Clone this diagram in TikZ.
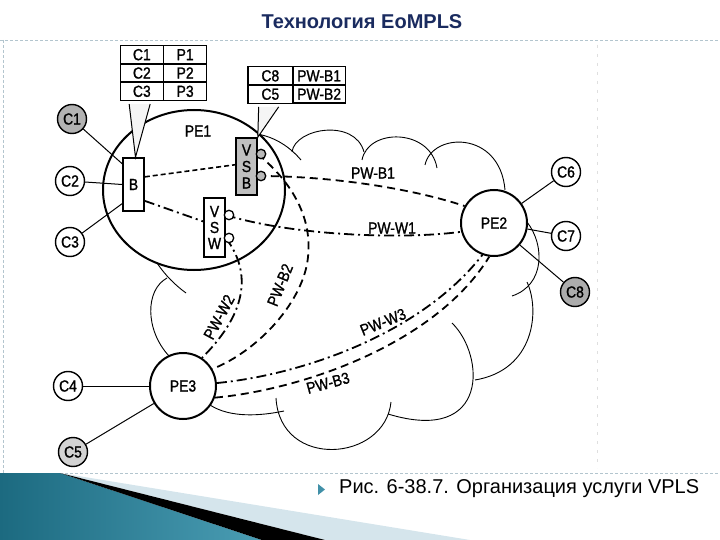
\documentclass[tikz,border=0pt]{standalone}
\usepackage{fontspec}
\setmainfont{Liberation Sans}
\newfontfamily\scan[FakeStretch=0.87,FakeBold=1.2]{Liberation Sans}
\usetikzlibrary{calc,matrix,shapes.geometric}
\tikzset{>=stealth}
\definecolor{navy}{HTML}{1A2B5F}
\definecolor{frame}{HTML}{B3C5CE}
\definecolor{tealdark}{HTML}{1C6A80}
\definecolor{teallight}{HTML}{4A9DB4}
\definecolor{paleblue}{HTML}{D5E5EC}
\definecolor{bullet}{HTML}{4190A8}
\tikzset{
  lbl/.style={font=\scan\fontsize{16}{16}\selectfont, inner sep=1pt},
  cl/.style={circle, draw, line width=1.4pt, minimum size=29pt, inner sep=0pt, fill=white, font=\scan\fontsize{16}{16}\selectfont},
  pe/.style={circle, draw, line width=2pt, minimum size=66pt, inner sep=0pt, fill=white, font=\scan\fontsize{16}{16}\selectfont},
  box/.style={draw, line width=1.6pt, fill=white, minimum width=21pt, inner sep=0pt, align=center, font=\scan\fontsize{16}{16.5}\selectfont},
  port/.style={circle, draw, line width=1.3pt, minimum size=9.5pt, inner sep=0pt, fill=white},
  tab/.style={matrix of nodes, column sep=-1pt, row sep=-1pt,
    nodes={draw, line width=1.3pt, minimum height=18pt, inner sep=0pt, font=\scan\fontsize{16}{16}\selectfont}},
  link/.style={line width=1pt},
  cloud/.style={line width=0.9pt},
  pwb/.style={line width=1.8pt, dash pattern=on 8pt off 5pt},
  pww/.style={line width=1.8pt, dash pattern=on 10pt off 4pt on 2pt off 4pt},
  loc/.style={line width=1.6pt, dash pattern=on 5pt off 3pt}
}
\begin{document}
\begin{tikzpicture}[x=1pt,y=-1pt]
\useasboundingbox (0,0) rectangle (720,540);

\draw[frame, dash pattern=on 3pt off 2pt] (0,40) -- (720,40);
\draw[frame, dash pattern=on 3pt off 2pt] (3,40) -- (3,473);
\draw[frame, dash pattern=on 3pt off 2pt] (0,473) -- (720,473);
\draw[gray!25, dash pattern=on 3pt off 6pt] (597,45) -- (597,468);

\node[font=\bfseries\fontsize{20}{20}\selectfont, text=navy] (title) at (362,22) {Технология EoMPLS};

% cloud
\draw[cloud] (257,134) .. controls (275,137) and (290,147) .. (301,160);
\draw[cloud] (292,152) .. controls (295,128) and (355,118) .. (364,152);
\draw[cloud] (362,160) .. controls (368,128) and (430,128) .. (437,168);
\draw[cloud] (425,165) .. controls (432,132) and (500,130) .. (505,190);
\draw[cloud] (527,222) .. controls (545,245) and (545,285) .. (512,296);
\draw[cloud] (527,282) .. controls (540,310) and (535,370) .. (475,380);
\draw[cloud] (452,323) .. controls (485,355) and (490,445) .. (388,414);
\draw[cloud] (391,402) .. controls (385,462) and (280,470) .. (276,398);
\draw[cloud] (210,405) .. controls (230,418) and (260,416) .. (284,411);
\draw[cloud] (169,356) .. controls (145,330) and (145,290) .. (167,278);
\draw[cloud] (157,263) .. controls (165,275) and (175,285) .. (186,293);

\node[draw, ellipse, line width=2pt, minimum width=182pt, minimum height=160pt] (pe1) at (194,190) {};
\node[lbl] (pe1t) at (198,131) {PE1};

\node[pe] (pe2) at (494,223) {PE2};
\node[pe] (pe3) at (183,386) {PE3};

\node[cl, fill=gray!60] (c1) at (72,119) {C1};
\node[cl] (c2) at (70,181) {C2};
\node[cl] (c3) at (70,242) {C3};
\node[cl] (c4) at (68,386) {C4};
\node[cl, fill=gray!35] (c5) at (73,452) {C5};
\node[cl] (c6) at (566,172) {C6};
\node[cl] (c7) at (566,236) {C7};
\node[cl, fill=gray!65] (c8) at (575,292) {C8};

\node[box, minimum height=53pt] (b) at (133.5,184.5) {B};
\node[box, fill=gray!50, minimum height=57pt] (vsb) at (246.5,166.5) {V\\S\\B};
\node[box, minimum height=59pt, font=\scan\fontsize{16}{16}\selectfont] (vsw) at (214.5,227.5) {V\\S\\W};

\draw[link] (c1) -- ($(b.north west)!0.12!(b.south west)$);
\draw[link] (c2) -- (b.west);
\draw[link] (c3) -- ($(b.north west)!0.85!(b.south west)$);
\draw[link] (c6) -- (pe2);
\draw[link] (c7) -- (pe2);
\draw[link] (c8) -- (pe2);
\draw[link] (c4) -- (pe3);
\draw[link] (c5) -- (pe3);

\draw[loc] ($(b.north east)!0.36!(b.south east)$) -- ($(vsb.north west)!0.47!(vsb.south west)$);
\draw[pww] ($(b.north east)!0.8!(b.south east)$) -- ($(vsw.north west)!0.4!(vsw.south west)$);

\draw[pwb] (vsb.east |- 0,176) .. controls (330,176) and (410,188) .. (pe2.150);
\draw[pwb] (vsb.east |- 0,154) .. controls (295,185) and (312,220) .. (308,257)
  .. controls (304,300) and (260,350) .. (pe3.30);
\draw[pww] (vsw.east |- 0,215) .. controls (290,235) and (400,240) .. (pe2.195);
\draw[pww] (vsw.east |- 0,238) .. controls (250,270) and (250,310) .. (pe3.56);
\draw[pww] (pe3.5) .. controls (300,375) and (420,335) .. (pe2.250);
\draw[pwb] (pe3.-20) .. controls (300,390) and (435,345) .. (pe2.262);

\node[port, fill=gray!55] (s1) at (261,154) {};
\node[port, fill=gray!55] (s2) at (261,176) {};
\node[port] (w1) at (229,215) {};
\node[port] (w2) at (229,238) {};

\node[lbl] (lb1) at (373,173) {PW-B1};
\node[lbl] (lw1) at (392,228) {PW-W1};
\node[lbl, rotate=62] (lw2) at (219,317) {PW-W2};
\node[lbl, rotate=68] (lb2) at (280,285) {PW-B2};
\node[lbl, rotate=22] (lw3) at (383,322) {PW-W3};
\node[lbl, rotate=15] (lb3) at (328,383) {PW-B3};

\matrix (t1) [tab, column 1/.style={nodes={minimum width=43pt}}, column 2/.style={nodes={minimum width=43pt}}] at (163.5,73) {C1 & P1\\ C2 & P2\\ C3 & P3\\};
\matrix (t2) [tab, column 1/.style={nodes={minimum width=45pt}}, column 2/.style={nodes={minimum width=52pt}}] at (296.5,85) {C8 & PW-B1\\ C5 & PW-B2\\};

\draw[line width=1pt, fill=gray!8] ($(t1.south west)+(13,-0.5)$) -- ($(b.north)+(2,0)$) -- ($(t1.south west)+(34,-0.5)$);
\draw[line width=1pt, fill=gray!8] ($(t2.south west)+(15,-0.5)$) -- (vsb.north east) -- ($(t2.south west)+(35,-0.5)$);

% bottom swoosh
\shade[left color=tealdark, right color=teallight] (0,473) -- (60,473) -- (262,540) -- (0,540) -- cycle;
\fill[paleblue] (60,473) -- (470,540) -- (325,540) -- cycle;
\fill[black] (60,473) -- (325,540) -- (262,540) -- cycle;

\fill[bullet] (318,484) -- (325,489.5) -- (318,495) -- cycle;
\node[anchor=west, font=\fontsize{20}{20}\selectfont, inner sep=0pt] (cap) at (339,489) {Рис. 6-38.7. Организация услуги VPLS};
\end{tikzpicture}
\end{document}
